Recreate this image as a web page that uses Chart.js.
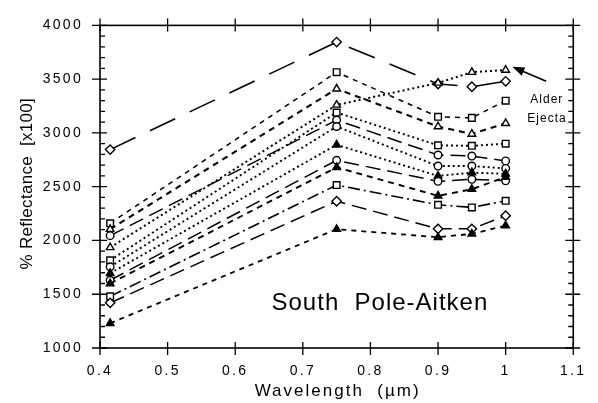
<!DOCTYPE html>
<html><head><meta charset="utf-8">
<script src="https://cdn.jsdelivr.net/npm/chart.js@4/dist/chart.umd.min.js"></script>
<style>html,body{margin:0;padding:0;background:#fff}canvas{display:block}</style>
</head><body>
<canvas id="c" width="598" height="403"></canvas>
<script>
const wavelengths = [0.415, 0.75, 0.9, 0.95, 1.0];
const xTicks = [0.4, 0.5, 0.6, 0.7, 0.8, 0.9, 1.0, 1.1];
const xTickLabels = ['0.4','0.5','0.6','0.7','0.8','0.9','1','1.1'];
const yTicks = [1000, 1500, 2000, 2500, 3000, 3500, 4000];
const yTickLabels = ['1000','1500','2000','2500','3000','3500','4000'];

const sDiaTop  = [2845, 3845, 3455, 3430, 3480];
const sSq1     = [2160, 3565, 3150, 3140, 3300];
const sTri1    = [2105, 3410, 3060, 2990, 3090];
const sAlder   = [1935, 3260, 3465, 3565, 3585];
const sCirc1   = [2045, 3120, 2795, 2785, 2740];
const sSq2     = [1815, 3190, 2885, 2880, 2900];
const sCirc2   = [1755, 3060, 2692, 2692, 2670];
const sFtri1   = [1695, 2890, 2600, 2631, 2620];
const sCirc3   = [1630, 2745, 2550, 2569, 2555];
const sFtri2   = [1600, 2680, 2415, 2477, 2590];
const sSq3     = [1480, 2515, 2332, 2307, 2369];
const sDia2    = [1420, 2365, 2108, 2108, 2230];
const sFtri3   = [1230, 2105, 2030, 2061, 2138];

const chartTitle = 'South  Pole-Aitken';
const alderLabel = ['Alder', 'Ejecta'];
const xTitle = 'Wavelength  (\u00b5m)';
const yTitle = '% Reflectance  [x100]';

const RADIUS = { rect: 4.7, rectRot: 4.7, circle: 3.8, triangle: 4.4 };
function ds(vals, style, filled, dash, width) {
  return {
    data: vals.map((v, i) => ({x: wavelengths[i], y: v})),
    borderColor: '#000', borderWidth: width || 1.5, borderDash: dash,
    pointStyle: style, pointRadius: RADIUS[style], pointBorderWidth: 1.4,
    pointBorderColor: '#000', pointBackgroundColor: filled ? '#000' : '#fff',
    fill: false, tension: 0
  };
}
const LONG = [28, 16], MED = [15, 7], SHORT = [5, 5], DOT = [2, 3], DASHDOT = [12, 4, 2, 4];

const datasets = [
  ds(sFtri3, 'triangle', true, SHORT, 1.8),
  ds(sDia2, 'rectRot', false, MED, 1.5),
  ds(sSq3, 'rect', false, DASHDOT, 1.6),
  ds(sFtri2, 'triangle', true, [6, 5], 1.9),
  ds(sCirc3, 'circle', false, MED, 1.5),
  ds(sFtri1, 'triangle', true, DOT, 1.9),
  ds(sCirc2, 'circle', false, DOT, 1.9),
  ds(sSq2, 'rect', false, DOT, 1.9),
  ds(sCirc1, 'circle', false, MED, 1.5),
  ds(sAlder, 'triangle', false, DOT, 2.0),
  ds(sTri1, 'triangle', false, [6, 5], 2.1),
  ds(sSq1, 'rect', false, SHORT, 1.5),
  ds(sDiaTop, 'rectRot', false, LONG, 1.6)
];

const annot = {
  titleX: 0.814, titleY: 1350,
  alderX: 1.032, alderY: 3280, ejectaY: 3100,
  arrowTip: [1.010, 3615], arrowTail: [1.060, 3480]
};

const framePlugin = {
  id: 'frame',
  beforeDraw(chart) { chart.ctx.letterSpacing = '2.3px'; },
  afterDraw(chart) {
    const ctx = chart.ctx, a = chart.chartArea, xs = chart.scales.x, ys = chart.scales.y;
    ctx.save();
    ctx.letterSpacing = '0px';
    ctx.strokeStyle = '#000'; ctx.lineWidth = 1.6;
    ctx.strokeRect(a.left, a.top, a.right - a.left, a.bottom - a.top);
    ctx.lineWidth = 1.3;
    ctx.beginPath();
    xTicks.forEach(v => {
      const px = xs.getPixelForValue(v);
      ctx.moveTo(px, a.bottom - 6); ctx.lineTo(px, a.bottom + 7);
      ctx.moveTo(px, a.top - 7); ctx.lineTo(px, a.top + 6);
    });
    for (let v = 1000; v <= 4000; v += 100) {
      const py = ys.getPixelForValue(v);
      if (v % 500 === 0) {
        ctx.moveTo(a.left - 8, py); ctx.lineTo(a.left + 7, py);
        ctx.moveTo(a.right - 8, py); ctx.lineTo(a.right + 7, py);
      } else {
        ctx.moveTo(a.left, py); ctx.lineTo(a.left + 5, py);
        ctx.moveTo(a.right - 5, py); ctx.lineTo(a.right, py);
      }
    }
    ctx.stroke();

    ctx.fillStyle = '#000';
    ctx.font = '17px "Liberation Sans", Arial, sans-serif';
    ctx.textAlign = 'center'; ctx.textBaseline = 'alphabetic';
    ctx.letterSpacing = '2px';
    ctx.fillText(xTitle, (a.left + a.right) / 2 + 1, 396);
    ctx.letterSpacing = '0.3px';
    ctx.save();
    ctx.translate(32, (a.top + a.bottom) / 2 - 3);
    ctx.rotate(-Math.PI / 2);
    ctx.fillText(yTitle, 0, 0);
    ctx.restore();

    ctx.letterSpacing = '1px';
    ctx.font = '24px "Liberation Sans", Arial, sans-serif';
    ctx.fillText(chartTitle, xs.getPixelForValue(annot.titleX), ys.getPixelForValue(annot.titleY));

    ctx.font = '12px "Liberation Sans", Arial, sans-serif';
    ctx.textAlign = 'left';
    ctx.letterSpacing = '1px';
    ctx.fillText(alderLabel[0], xs.getPixelForValue(annot.alderX) + 3, ys.getPixelForValue(annot.alderY));
    ctx.fillText(alderLabel[1], xs.getPixelForValue(annot.alderX), ys.getPixelForValue(annot.ejectaY));
    const tx = xs.getPixelForValue(annot.arrowTip[0]), ty = ys.getPixelForValue(annot.arrowTip[1]);
    const sx = xs.getPixelForValue(annot.arrowTail[0]), sy = ys.getPixelForValue(annot.arrowTail[1]);
    const ang = Math.atan2(ty - sy, tx - sx);
    ctx.lineWidth = 1.6;
    ctx.beginPath(); ctx.moveTo(sx, sy); ctx.lineTo(tx - 8 * Math.cos(ang), ty - 8 * Math.sin(ang)); ctx.stroke();
    ctx.beginPath();
    ctx.moveTo(tx, ty);
    ctx.lineTo(tx - 12 * Math.cos(ang) + 4.5 * Math.sin(ang), ty - 12 * Math.sin(ang) - 4.5 * Math.cos(ang));
    ctx.lineTo(tx - 12 * Math.cos(ang) - 4.5 * Math.sin(ang), ty - 12 * Math.sin(ang) + 4.5 * Math.cos(ang));
    ctx.closePath(); ctx.fill();
    ctx.restore();
  }
};

new Chart(document.getElementById('c'), {
  type: 'line',
  data: { datasets },
  options: {
    responsive: false, animation: false, devicePixelRatio: 1,
    layout: { padding: { top: 23, right: 11, left: 0, bottom: 0 } },
    plugins: { legend: { display: false }, tooltip: { enabled: false } },
    scales: {
      x: {
        type: 'linear', min: 0.4, max: 1.1,
        afterBuildTicks: s => { s.ticks = xTicks.map(v => ({ value: v })); },
        afterFit: s => { s.height = 55; },
        grid: { display: false, drawTicks: false },
        border: { display: false },
        ticks: { padding: 15, color: '#000', font: { family: '"Liberation Sans", Arial, sans-serif', size: 14 },
                 callback: (v, i) => xTickLabels[i], maxRotation: 0, autoSkip: false }
      },
      y: {
        type: 'linear', min: 1000, max: 4000,
        afterBuildTicks: s => { s.ticks = yTicks.map(v => ({ value: v })); },
        afterFit: s => { s.width = 100; },
        grid: { display: false, drawTicks: false },
        border: { display: false },
        ticks: { padding: 17, color: '#000', font: { family: '"Liberation Sans", Arial, sans-serif', size: 14 },
                 callback: (v, i) => yTickLabels[i], autoSkip: false }
      }
    }
  },
  plugins: [framePlugin]
});
</script>
</body></html>
